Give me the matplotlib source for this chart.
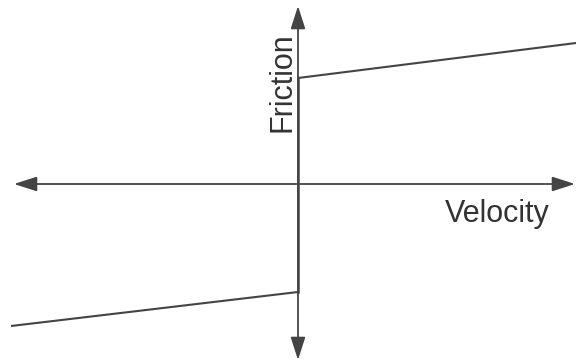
import matplotlib
matplotlib.use("Agg")
import matplotlib.pyplot as plt
from matplotlib.patches import FancyArrowPatch

# Data (arbitrary units, origin at axes crossing)
upper_velocity = [0.0, 2.78]
upper_friction = [1.06, 1.41]
lower_velocity = [-2.87, 0.0]
lower_friction = [-1.42, -1.08]
x_axis_span = [-2.84, 2.77]
y_axis_span = [-1.76, 1.78]
x_label = "Velocity"
y_label = "Friction"

ink = "#444444"

fig = plt.figure(figsize=(5.76, 3.64), dpi=100)
ax = fig.add_axes([0, 0, 1, 1])
ax.set_xlim(-2.98, 2.78)
ax.set_ylim(-1.80, 1.84)
ax.axis("off")

style = "<|-|>,head_length=1.4,head_width=0.45"
ax.add_patch(FancyArrowPatch((x_axis_span[0], 0), (x_axis_span[1], 0),
                             arrowstyle=style, mutation_scale=10,
                             color=ink, lw=1.3, shrinkA=0, shrinkB=0))
ax.add_patch(FancyArrowPatch((0, y_axis_span[0]), (0, y_axis_span[1]),
                             arrowstyle=style, mutation_scale=10,
                             color=ink, lw=1.3, shrinkA=0, shrinkB=0))

ax.plot(upper_velocity, upper_friction, color=ink, lw=1.5, solid_capstyle="butt")
ax.plot(lower_velocity, lower_friction, color=ink, lw=1.5, solid_capstyle="butt")
ax.plot([0, 0], [lower_friction[1], upper_friction[0]], color=ink, lw=1.8)

ax.text(2.52, -0.30, x_label, fontsize=22, family="Liberation Sans",
        color="#333333", ha="right", va="center")
ax.text(-0.155, 1.02, y_label, fontsize=22, family="Liberation Sans",
        color="#333333", ha="center", va="center", rotation=90)

fig.savefig("out.png", dpi=100)
